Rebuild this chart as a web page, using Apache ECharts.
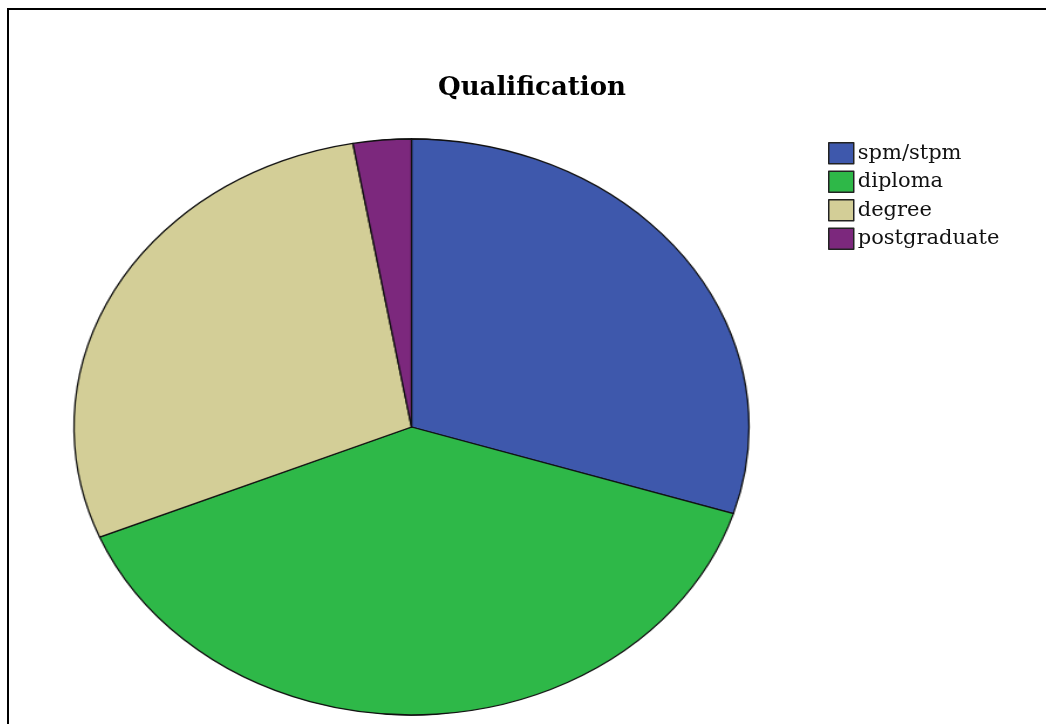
<!DOCTYPE html>
<html>
<head>
<meta charset="utf-8">
<script src="https://cdn.jsdelivr.net/npm/echarts@6/dist/echarts.min.js"></script>
<style>
  html, body { margin: 0; padding: 0; width: 1046px; height: 724px; overflow: hidden; background: #fff; }
  #frame { position: absolute; left: 7px; top: 8px; width: 2000px; height: 2000px; border: 2px solid #000; box-sizing: border-box; }
  #base, #ellipse { position: absolute; left: 0; top: 0; width: 1046px; height: 724px; }
  /* the pie layer is stretched horizontally so the circle becomes an ellipse */
  #ellipse { transform-origin: 411.5px 427px; transform: scaleX(1.172); }
</style>
</head>
<body>
<div id="frame"></div>
<div id="base"></div>
<div id="ellipse"></div>
<script>
const titleText = 'Qualification';
const categories = ['spm/stpm', 'diploma', 'degree', 'postgraduate'];
const counts = [43, 56, 41, 4];
const colors = ['#3E58AC', '#2EB848', '#D3CE97', '#7C287D'];

const pieData = categories.map((name, i) => ({ name: name, value: counts[i] }));

function pieSeries() {
  return {
    type: 'pie',
    center: [411.5, 427],
    radius: 288,
    startAngle: 90,
    clockwise: true,
    data: pieData,
    label: { show: false },
    labelLine: { show: false },
    emphasis: { disabled: true },
    silent: true,
    itemStyle: { borderColor: '#111', borderWidth: 1.3 }
  };
}

const base = echarts.init(document.getElementById('base'), null, { renderer: 'canvas' });
base.setOption({
  animation: false,
  color: colors,
  title: {
    text: titleText,
    left: 527,
    textAlign: 'center',
    top: 70,
    textStyle: { fontFamily: 'DejaVu Serif', fontWeight: 'bold', fontSize: 26, color: '#000' }
  },
  legend: {
    orient: 'vertical',
    left: 828,
    top: 142,
    padding: 0,
    itemWidth: 25,
    itemHeight: 21,
    itemGap: 6,
    icon: 'rect',
    selectedMode: false,
    itemStyle: { borderColor: '#222', borderWidth: 1.5 },
    textStyle: { fontFamily: 'DejaVu Serif', fontSize: 21, lineHeight: 20, color: '#111', padding: [0, 0, 0, -1] },
    data: categories
  },
  series: [pieSeries()]
});

const ell = echarts.init(document.getElementById('ellipse'), null, { renderer: 'canvas' });
ell.setOption({
  animation: false,
  color: colors,
  series: [pieSeries()]
});
</script>
</body>
</html>
